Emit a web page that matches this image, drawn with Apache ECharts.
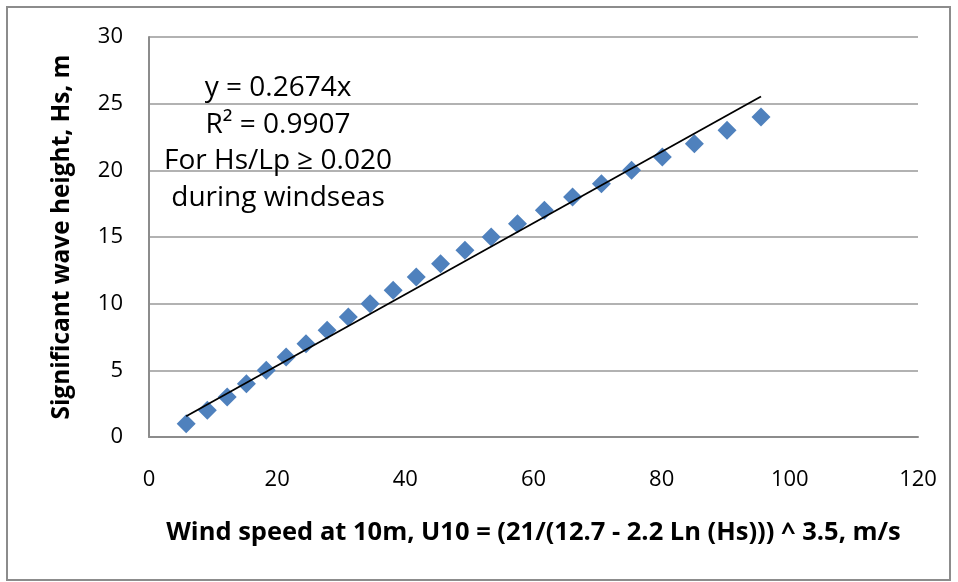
<!DOCTYPE html>
<html>
<head>
<meta charset="utf-8">
<script src="https://cdn.jsdelivr.net/npm/echarts@6/dist/echarts.min.js"></script>
<style>
html,body{margin:0;padding:0;background:#fff;}
#chart{width:958px;height:582px;}
</style>
</head>
<body>
<div id="chart"></div>
<script>
// Significant wave height Hs (m)
var hsValues = [1,2,3,4,5,6,7,8,9,10,11,12,13,14,15,16,17,18,19,20,21,22,23,24];
// Wind speed U10 (m/s)
var u10Values = [5.8,9.1,12.2,15.2,18.3,21.4,24.5,27.8,31.1,34.5,38.1,41.7,45.5,49.3,53.4,57.5,61.7,66.1,70.6,75.3,80.1,85.1,90.2,95.5];
var trendSlope = 0.2674;
var xTicks = [0,20,40,60,80,100,120];
var yTicks = [0,5,10,15,20,25,30];
var annotationLines = ['y = 0.2674x','R² = 0.9907','For Hs/Lp ≥ 0.020','during windseas'];
var xTitle = 'Wind speed at 10m, U10 = (21/(12.7 - 2.2 Ln (Hs))) ^ 3.5, m/s';
var yTitle = 'Significant wave height, Hs, m';

var points = u10Values.map(function(u,i){ return [u, hsValues[i]]; });
var xMin = Math.min.apply(null,u10Values), xMax = Math.max.apply(null,u10Values);
var trend = [[xMin, trendSlope*xMin],[xMax, trendSlope*xMax]];

var FONT = '"Open Sans", sans-serif';
var chart = echarts.init(document.getElementById('chart'), null, {renderer:'canvas'});
var graphics = [
  {type:'rect',shape:{x:7,y:7,width:943,height:573},
   style:{fill:'none',stroke:'#8c8c8c',lineWidth:2},silent:true}
];
annotationLines.forEach(function(t,i){
  graphics.push({type:'text',x:278,y:88.5+i*36.5,z:10,
    style:{text:t,fill:'#000',fontSize:28,fontFamily:FONT,align:'center',verticalAlign:'middle'}});
});
chart.setOption({
  animation:false,
  backgroundColor:'#fff',
  grid:{left:149,right:40,top:37,bottom:145,containLabel:false},
  xAxis:{
    type:'value',min:xTicks[0],max:xTicks[xTicks.length-1],interval:20,
    axisLine:{show:true,lineStyle:{color:'#8c8c8c',width:2}},
    axisTick:{show:false},
    splitLine:{show:false},
    axisLabel:{color:'#000',fontSize:22,fontFamily:FONT,margin:32},
    name:xTitle,nameLocation:'middle',nameGap:83,
    nameTextStyle:{color:'#000',fontSize:25.5,fontWeight:'bold',fontFamily:FONT}
  },
  yAxis:{
    type:'value',min:yTicks[0],max:yTicks[yTicks.length-1],interval:5,
    axisLine:{show:true,lineStyle:{color:'#8c8c8c',width:2}},
    axisTick:{show:false},
    splitLine:{show:true,lineStyle:{color:'#999',width:1.5}},
    axisLabel:{color:'#000',fontSize:22,fontFamily:FONT,margin:26},
    name:yTitle,nameLocation:'middle',nameGap:75,
    nameTextStyle:{color:'#000',fontSize:24.4,fontWeight:'bold',fontFamily:FONT}
  },
  series:[
    {type:'scatter',data:points,symbol:'diamond',symbolSize:19,
     itemStyle:{color:'#4F81BD',opacity:1},z:2},
    {type:'line',data:trend,symbol:'none',lineStyle:{color:'#000',width:1.8},z:3,silent:true}
  ],
  graphic:graphics
});
</script>
</body>
</html>
